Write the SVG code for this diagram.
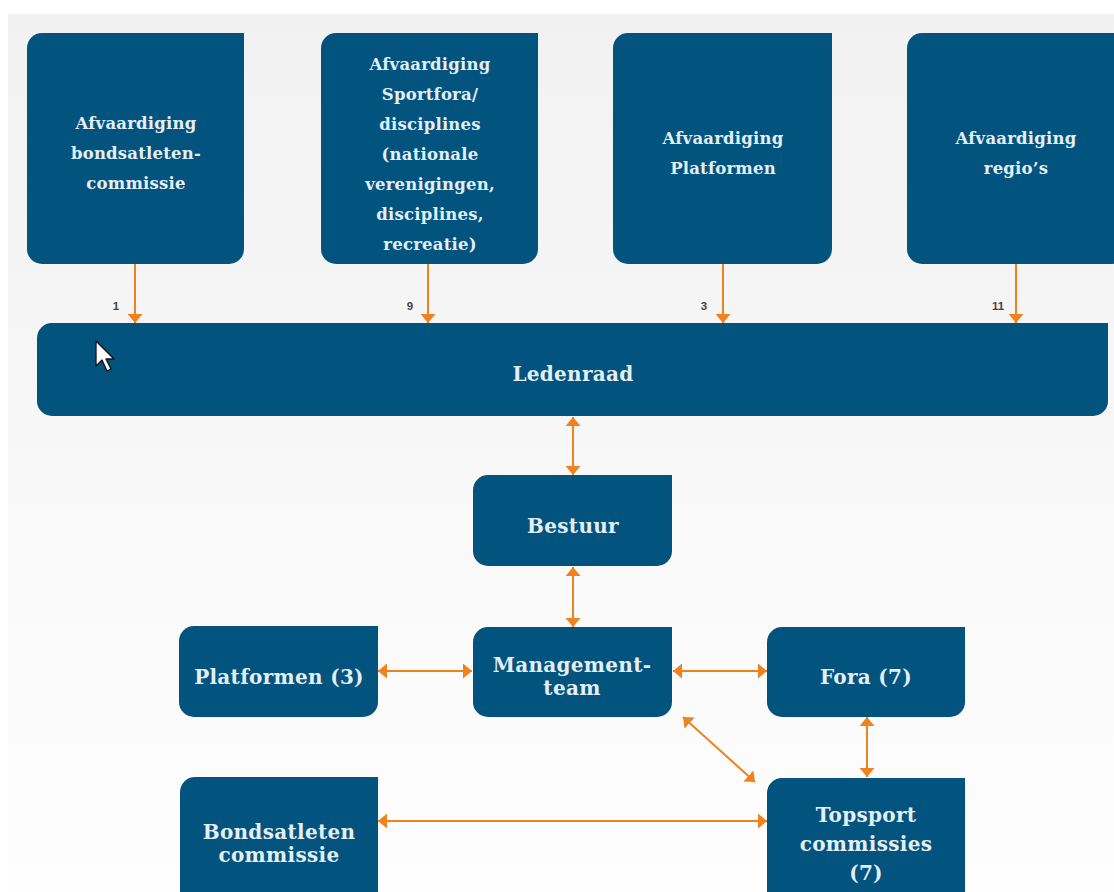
<svg xmlns="http://www.w3.org/2000/svg" width="1114" height="892" viewBox="0 0 1114 892">
<defs>
<linearGradient id="bg" x1="0" y1="0" x2="0" y2="1">
<stop offset="0" stop-color="#f1f1f1"/>
<stop offset="1" stop-color="#fefefe"/>
</linearGradient>
<marker id="ah" viewBox="0 0 9 15" refX="9" refY="7.5" markerWidth="9" markerHeight="15" markerUnits="userSpaceOnUse" orient="auto-start-reverse">
<path d="M0 0 L9 7.5 L0 15 Z" fill="#f0821e"/>
</marker>
<style>
.box{fill:#02537d;}
.t{font-family:"DejaVu Serif","Liberation Serif",serif;font-weight:bold;fill:#e4eef5;text-anchor:middle;}
.s{font-size:16.5px;letter-spacing:0.2px;}
.b{font-size:20px;letter-spacing:0.3px;}
.n{font-family:"Liberation Sans",Arial,sans-serif;font-size:11.5px;font-weight:bold;fill:#444444;text-anchor:middle;}
.c{stroke:#f0821e;stroke-width:2;fill:none;}
.one{marker-end:url(#ah);}
.two{marker-start:url(#ah);marker-end:url(#ah);}
</style>
</defs>
<rect x="0" y="0" width="1114" height="892" fill="#ffffff"/>
<rect x="8" y="14" width="1106" height="878" fill="url(#bg)"/>

<g id="connectors">
<line class="c one" x1="135" y1="264" x2="135" y2="323"/>
<line class="c one" x1="428" y1="264" x2="428" y2="323"/>
<line class="c one" x1="723" y1="264" x2="723" y2="323"/>
<line class="c one" x1="1016" y1="264" x2="1016" y2="323"/>
<line class="c two" x1="573" y1="417" x2="573" y2="475"/>
<line class="c two" x1="573" y1="567" x2="573" y2="627"/>
<line class="c two" x1="378" y1="671" x2="472" y2="671"/>
<line class="c two" x1="673" y1="671" x2="767" y2="671"/>
<line class="c two" x1="867" y1="717" x2="867" y2="777"/>
<line class="c two" x1="683" y1="717" x2="755" y2="782"/>
<line class="c two" x1="378" y1="821" x2="767" y2="821"/>
<text class="n" x="116" y="310">1</text>
<text class="n" x="410" y="310">9</text>
<text class="n" x="704" y="310">3</text>
<text class="n" x="998" y="310">11</text>
</g>

<g id="afv-bondsatleten">
<path class="box" d="M42 33 H244 V249 A15 15 0 0 1 229 264 H42 A15 15 0 0 1 27 249 V48 A15 15 0 0 1 42 33 Z"/>
<text class="t s" x="136" y="129">Afvaardiging</text>
<text class="t s" x="136" y="159">bondsatleten-</text>
<text class="t s" x="136" y="189">commissie</text>
</g>

<g id="afv-sportfora">
<path class="box" d="M336 33 H538 V249 A15 15 0 0 1 523 264 H336 A15 15 0 0 1 321 249 V48 A15 15 0 0 1 336 33 Z"/>
<text class="t s" x="430" y="70">Afvaardiging</text>
<text class="t s" x="430" y="100">Sportfora/</text>
<text class="t s" x="430" y="130">disciplines</text>
<text class="t s" x="430" y="160">(nationale</text>
<text class="t s" x="430" y="190">verenigingen,</text>
<text class="t s" x="430" y="220">disciplines,</text>
<text class="t s" x="430" y="250">recreatie)</text>
</g>

<g id="afv-platformen">
<path class="box" d="M628 33 H832 V249 A15 15 0 0 1 817 264 H628 A15 15 0 0 1 613 249 V48 A15 15 0 0 1 628 33 Z"/>
<text class="t s" x="723" y="144">Afvaardiging</text>
<text class="t s" x="723" y="174">Platformen</text>
</g>

<g id="afv-regios">
<path class="box" d="M922 33 H1126 V249 A15 15 0 0 1 1111 264 H922 A15 15 0 0 1 907 249 V48 A15 15 0 0 1 922 33 Z"/>
<text class="t s" x="1016" y="144">Afvaardiging</text>
<text class="t s" x="1016" y="174">regio’s</text>
</g>

<g id="ledenraad">
<path class="box" d="M52 323 H1108 V401 A15 15 0 0 1 1093 416 H52 A15 15 0 0 1 37 401 V338 A15 15 0 0 1 52 323 Z"/>
<text class="t b" x="573" y="381">Ledenraad</text>
</g>

<g id="bestuur">
<path class="box" d="M488 475 H672 V551 A15 15 0 0 1 657 566 H488 A15 15 0 0 1 473 551 V490 A15 15 0 0 1 488 475 Z"/>
<text class="t b" x="573" y="533">Bestuur</text>
</g>

<g id="managementteam">
<path class="box" d="M488 627 H672 V702 A15 15 0 0 1 657 717 H488 A15 15 0 0 1 473 702 V642 A15 15 0 0 1 488 627 Z"/>
<text class="t b" x="572" y="672">Management-</text>
<text class="t b" x="572" y="695">team</text>
</g>

<g id="platformen">
<path class="box" d="M194 626 H378 V702 A15 15 0 0 1 363 717 H194 A15 15 0 0 1 179 702 V641 A15 15 0 0 1 194 626 Z"/>
<text class="t b" x="279" y="684">Platformen (3)</text>
</g>

<g id="fora">
<path class="box" d="M782 627 H965 V702 A15 15 0 0 1 950 717 H782 A15 15 0 0 1 767 702 V642 A15 15 0 0 1 782 627 Z"/>
<text class="t b" x="866" y="684">Fora (7)</text>
</g>

<g id="topsport">
<path class="box" d="M782 778 H965 V910 H767 V793 A15 15 0 0 1 782 778 Z"/>
<text class="t b" x="866" y="822">Topsport</text>
<text class="t b" x="866" y="851">commissies</text>
<text class="t b" x="866" y="880">(7)</text>
</g>

<g id="bondsatleten">
<path class="box" d="M195 777 H378 V910 H180 V792 A15 15 0 0 1 195 777 Z"/>
<text class="t b" x="279" y="839">Bondsatleten</text>
<text class="t b" x="279" y="862">commissie</text>
</g>

<path d="M96 341 V366 L102 360 L107 371 L111 369 L106 359 L114 359 Z" fill="#ffffff" stroke="#111111" stroke-width="1.3" stroke-linejoin="round"/>
</svg>
